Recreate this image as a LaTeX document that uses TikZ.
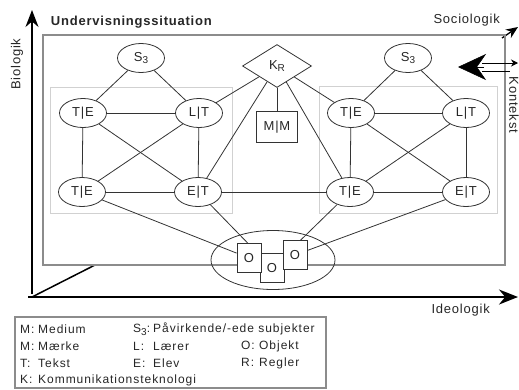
\documentclass[tikz,border=0pt]{standalone}
\usepackage{fontspec}
\setmainfont{Liberation Sans}
\newfontfamily\labfont{Liberation Sans}[LetterSpace=6]
\newfontfamily\legfont{Liberation Sans}[LetterSpace=8]
\usetikzlibrary{shapes.geometric,arrows.meta,backgrounds}
\newcommand\lowsub[1]{\raisebox{-0.4ex}{\fontsize{10}{10}\selectfont #1}}
\begin{document}
\begin{tikzpicture}[x=1pt,y=-1pt,
  every node/.style={font=\labfont\fontsize{13}{15}\selectfont, inner sep=0pt, text=black!85},
  con/.style={line width=0.8pt, draw=black!80},
  ell/.style={ellipse, draw=black!80, line width=0.8pt, minimum width=47pt, minimum height=29pt},
  obox/.style={rectangle, draw=black!80, fill=white, line width=0.8pt, minimum width=24pt, minimum height=29pt},
  axis/.style={line width=1.8pt, draw=black},
  frame/.style={draw=black!45, line width=2pt},
  subframe/.style={draw=black!18, line width=1pt},
  leg/.style={font=\legfont\fontsize{12}{14}\selectfont, anchor=west, inner sep=0pt},
]
\useasboundingbox (0,0) rectangle (519,389);

% coordinates for axes
\coordinate (orig) at (32,297);
\coordinate (ytip) at (32,10);
\coordinate (xtip) at (518,297);
\coordinate (dend) at (95,265);
\coordinate (sstart) at (502,38);
\coordinate (stip) at (518,27);

% left cluster
\node[ell] (s3l) at (141,58) {S\lowsub{3}};
\node[ell] (tel1) at (83,113) {T|E};
\node[ell] (ltl1) at (199,113) {L|T};
\node[ell] (tel2) at (82,192) {T|E};
\node[ell] (etl2) at (198,192) {E|T};
% centre
\node[diamond, draw=black!80, line width=0.8pt, minimum width=69pt, minimum height=43pt] (kr) at (277,66) {K\lowsub{R}};
\node[rectangle, draw=black!80, line width=0.8pt, minimum width=41pt, minimum height=31pt] (mm) at (277,127) {M|M};
% right cluster
\node[ell] (s3r) at (408,58) {S\lowsub{3}};
\node[ell] (ter1) at (351,113) {T|E};
\node[ell] (ltr1) at (466,113) {L|T};
\node[ell] (ter2) at (350,192) {T|E};
\node[ell] (etr2) at (466,192) {E|T};
% objects
\node[ellipse, draw=black!80, line width=0.8pt, minimum width=124pt, minimum height=59pt] (oell) at (273,260) {};
\node[obox] (o2) at (272,268) {O};
\node[obox] (o1) at (249,258) {O};
\node[obox] (o3) at (295,255) {O};

% labels
\node[anchor=east, font=\labfont\bfseries\fontsize{13}{15}\selectfont] (title) at (212,22) {Undervisningssituation};
\node[anchor=east] (soc) at (500,20) {Sociologik};
\node[anchor=east] (ideo) at (490,310) {Ideologik};
\node[rotate=90] (bio) at (17,64) {Biologik};
\node[rotate=-90] (kon) at (514,105) {Kontekst};

% Kontekst double arrow
\coordinate (kh) at (458,67);
\coordinate (kb) at (484,67);
\coordinate (ka1) at (482,63);
\coordinate (kb1) at (518,63);
\coordinate (ka2) at (482,71);
\coordinate (kb2) at (510,71);
\draw[line width=0.5pt, -{Stealth[length=28pt,width=26pt,inset=9pt]}] (kb) -- (kh);
\draw[line width=0.9pt, -{Stealth[length=7pt,width=7pt]}] (ka1) -- (kb1);
\draw[line width=0.9pt] (ka2) -- (kb2);

% legend
\draw[draw=black!45, line width=1.2pt] (15,317) rectangle (326,388);
\node[leg] (lg1) at (20,329) {\makebox[18pt][l]{M:}Medium};
\node[leg] (lg2) at (20,346) {\makebox[18pt][l]{M:}Mærke};
\node[leg] (lg3) at (20,363) {\makebox[18pt][l]{T:}Tekst};
\node[leg] (lg4) at (20,380) {\makebox[18pt][l]{K:}Kommunikationsteknologi};
\node[leg] (lg5) at (133,329) {\makebox[20pt][l]{S\lowsub{3}:}Påvirkende/-ede subjekter};
\node[leg] (lg6) at (133,346) {\makebox[20pt][l]{L:}Lærer};
\node[leg] (lg7) at (133,363) {\makebox[20pt][l]{E:}Elev};
\node[leg] (lg8) at (241,346) {\makebox[18pt][l]{O:}Objekt};
\node[leg] (lg9) at (241,363) {\makebox[18pt][l]{R:}Regler};

\begin{scope}[on background layer]
  % axes
  \draw[axis, -{Stealth[length=17pt,width=13pt]}] ([yshift=3pt]orig) -- (ytip);
  \draw[axis, -{Stealth[length=19pt,width=15pt]}] ([xshift=-4pt]orig) -- (xtip);
  \draw[line width=1.5pt] (orig) -- (dend);
  \draw[line width=1.3pt, -{Stealth[length=12pt,width=10pt]}] (sstart) -- (stip);
  % frames
  \draw[frame] (43,35) rectangle (505,265);
  \draw[subframe] (50,87) rectangle (232,213);
  \draw[subframe] (319,86) rectangle (497,213);
  % left connectors
  \draw[con] (s3l) -- (tel1);
  \draw[con] (s3l) -- (ltl1);
  \draw[con] (tel1) -- (ltl1);
  \draw[con] (tel1) -- (tel2);
  \draw[con] (ltl1) -- (etl2);
  \draw[con] (tel1) -- (etl2);
  \draw[con] (ltl1) -- (tel2);
  \draw[con] (tel2) -- (etl2);
  % right connectors
  \draw[con] (s3r) -- (ter1);
  \draw[con] (s3r) -- (ltr1);
  \draw[con] (ter1) -- (ltr1);
  \draw[con] (ter1) -- (ter2);
  \draw[con] (ltr1) -- (etr2);
  \draw[con] (ter1) -- (etr2);
  \draw[con] (ltr1) -- (ter2);
  \draw[con] (ter2) -- (etr2);
  % centre connectors
  \draw[con] (kr) -- (ltl1);
  \draw[con] (kr) -- (etl2);
  \draw[con] (kr) -- (ter1);
  \draw[con] (kr) -- (ter2);
  \draw[con] (kr) -- (mm);
  \draw[con] (etl2) -- (ter2);
  % to objects
  \draw[con] (tel2) -- (o1);
  \draw[con] (etl2) -- (o2);
  \draw[con] (ter2) -- (o2);
  \draw[con] (etr2) -- (o3);
\end{scope}
\end{tikzpicture}
\end{document}
